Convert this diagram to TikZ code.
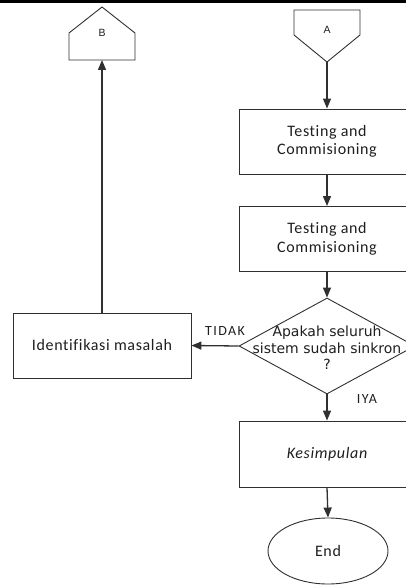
\documentclass[tikz,border=0pt]{standalone}
\usepackage{fontspec}
\setmainfont{Carlito}[LetterSpace=4,Ligatures=NoCommon]
\newfontfamily\dejavu{DejaVu Sans}
\newfontfamily\arialfont{Liberation Sans}
\usetikzlibrary{arrows.meta,shapes.geometric}
\definecolor{ln}{HTML}{303030}
\definecolor{tx}{HTML}{1E1E1E}
\tikzset{
  flowbox/.style={draw=ln, line width=0.9pt, minimum width=176pt, minimum height=65pt, inner sep=0pt, text=tx, font=\fontsize{16}{18.5}\selectfont, align=center},
  flowarrow/.style={draw=ln, line width=1.3pt, -{Triangle[length=10pt,width=8pt]}},
  shapeline/.style={draw=ln, line width=0.9pt},
  lbl/.style={text=tx, font=\fontsize{14}{16}\selectfont\addfontfeature{LetterSpace=10}, inner sep=0pt},
  pagelbl/.style={text=tx, font=\arialfont\fontsize{10.5}{12}\selectfont, inner sep=0pt},
}
\begin{document}
\begin{tikzpicture}[x=1pt,y=-1pt]
\useasboundingbox (0,0) rectangle (406,585);
% top rule
\fill[black] (0,0) rectangle (406,2.6);
% off-page connector B
\draw[shapeline] (69,60) -- (69,33) -- (102,7) -- (135,33) -- (135,60) -- cycle;
\node[pagelbl] (B) at (102,33) {B};
\coordinate (Bbot) at (102,60);
% off-page connector A
\draw[shapeline] (294,10) -- (360,10) -- (360,35) -- (327,62) -- (294,35) -- cycle;
\node[pagelbl] (A) at (327,30) {A};
\coordinate (Atip) at (327,62);
% process boxes
\node[flowbox] (t1) at (327,141.5) {Testing and\\Commisioning};
\node[flowbox] (t2) at (327,239) {Testing and\\Commisioning};
% decision
\node[draw=ln, line width=0.9pt, shape=diamond, minimum width=176pt, minimum height=96pt, inner sep=0pt] (dia) at (327,346) {};
\node[text=tx, font=\dejavu\fontsize{14}{16.5}\selectfont, align=center, inner sep=0pt] (diatext) at (327,348) {Apakah seluruh\\sistem sudah sinkron\\?};
% identifikasi
\node[flowbox, minimum width=178pt] (idm) at (102,345.5) {Identifikasi masalah};
% kesimpulan
\node[flowbox, minimum height=66pt, font=\fontsize{16}{18.5}\selectfont\itshape] (kes) at (327,454) {Kesimpulan};
% end
\node[draw=ln, line width=0.9pt, ellipse, minimum width=120pt, minimum height=66pt, inner sep=0pt, text=tx, font=\fontsize{16}{18.5}\selectfont] (end) at (328,551) {End};
% connectors
\draw[flowarrow] (Atip) -- (t1.north);
\draw[flowarrow] (t1.south) -- (t2.north);
\draw[flowarrow] (t2.south) -- (dia.north);
\draw[flowarrow] (dia.south) -- (kes.north);
\draw[flowarrow] (kes.south) -- (end.north);
\draw[flowarrow] (dia.west) -- (idm.east);
\draw[flowarrow] (idm.north) -- (Bbot);
% labels
\node[lbl] (tidak) at (225,331) {TIDAK};
\node[lbl] (iya) at (367,399) {IYA};
\end{tikzpicture}
\end{document}
